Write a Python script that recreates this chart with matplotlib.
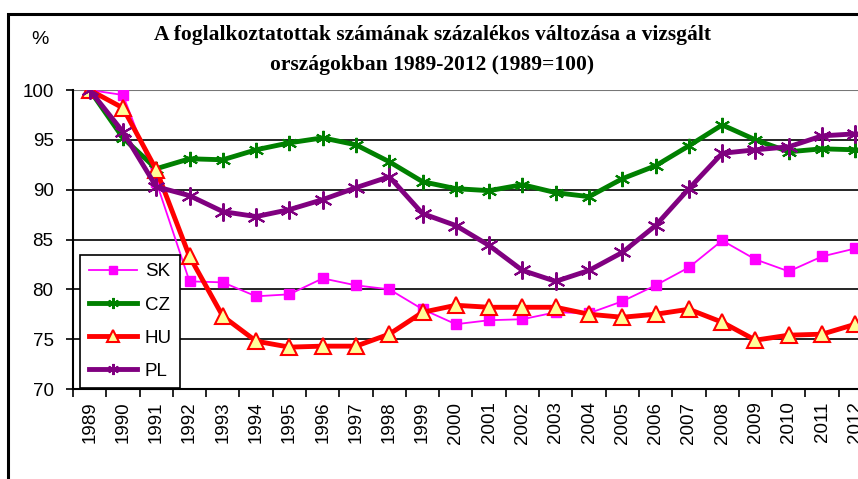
import matplotlib
matplotlib.use('Agg')
import matplotlib.pyplot as plt
import matplotlib.patches as patches
import numpy as np

years = [str(y) for y in range(1989, 2013)]

sk = [100, 99.5, 90.8, 80.8, 80.7, 79.3, 79.5, 81.1, 80.4, 80.0, 78.0, 76.5,
      76.9, 77.0, 77.7, 77.6, 78.8, 80.4, 82.2, 84.9, 83.0, 81.8, 83.3, 84.1]
cz = [100, 95.2, 92.1, 93.1, 93.0, 94.0, 94.7, 95.2, 94.5, 92.8, 90.8, 90.1,
      89.9, 90.5, 89.7, 89.3, 91.1, 92.4, 94.4, 96.5, 95.0, 93.8, 94.1, 94.0]
hu = [100, 98.2, 92.0, 83.3, 77.3, 74.8, 74.2, 74.3, 74.3, 75.5, 77.7, 78.4,
      78.2, 78.2, 78.2, 77.5, 77.2, 77.5, 78.0, 76.7, 74.9, 75.4, 75.5, 76.5]
pl = [100, 95.8, 90.3, 89.4, 87.8, 87.3, 88.0, 89.0, 90.2, 91.3, 87.6, 86.4,
      84.4, 81.9, 80.8, 81.9, 83.7, 86.4, 90.1, 93.65, 94.0, 94.3, 95.4, 95.6]

yticks = [70, 75, 80, 85, 90, 95, 100]

plt.rcParams['font.family'] = ['Liberation Sans', 'DejaVu Sans']

fig = plt.figure(figsize=(8.58, 4.79), dpi=100)
ax = fig.add_axes([73 / 858, 1 - 389 / 479, 799 / 858, 299 / 479])

x = np.arange(len(years))

# gridlines
for v in yticks[1:-1]:
    ax.axhline(v, color='black', lw=1.2, zorder=1)
ax.axhline(100, color='#777777', lw=1.5, zorder=1)

ax.plot(x, sk, color='#FF00FF', lw=1.3, marker='s', ms=7,
        mfc='#FF00FF', mec='#FF00FF', label='SK', zorder=3)
ax.plot(x, cz, color='#008000', lw=3.5, marker=(6, 2, 0), ms=11,
        mec='#008000', mew=1.5, label='CZ', zorder=4)
ax.plot(x, hu, color='#FF0000', lw=3.5, marker='^', ms=11,
        mfc='#FFFF99', mec='#FF0000', mew=1.5, label='HU', zorder=5)
ax.plot(x, pl, color='#800080', lw=3.5, marker=(6, 2, 0), ms=13,
        mec='#800080', mew=1.5, label='PL', zorder=6)

ax.set_xlim(-0.5, len(years) - 0.5)
ax.set_ylim(70, 100)
ax.set_yticks(yticks)
ax.tick_params(axis='y', labelsize=13.5, length=5, width=1.2,
               direction='out', pad=9)

ax.set_xticks(x)
ax.set_xticklabels(years, rotation=90, fontsize=13.5)
ax.set_xticks(np.arange(len(years) + 1) - 0.5, minor=True)
ax.tick_params(axis='x', which='major', length=0, pad=9)
ax.tick_params(axis='x', which='minor', length=6, width=1.2, direction='out')

for s in ['top', 'right']:
    ax.spines[s].set_visible(False)
ax.spines['left'].set_linewidth(1.5)
ax.spines['bottom'].set_linewidth(1.5)

leg = ax.legend(loc='lower left', bbox_to_anchor=(0.009, 0.003), fontsize=13.5,
                handlelength=2.6, labelspacing=0.85, borderpad=0.45,
                borderaxespad=0, handletextpad=0.4, fancybox=False,
                framealpha=1, edgecolor='black')
leg.get_frame().set_linewidth(1.2)
for h, s in zip(leg.legend_handles, [6, 8, 9, 8]):
    h.set_markersize(s)

fig.text(40 / 858, 1 - 39 / 479, '%', fontsize=14, ha='center', va='center')
fig.text(432 / 858, 1 - 50 / 479,
         'A foglalkoztatottak számának százalékos változása a vizsgált\n'
         'országokban 1989-2012 (1989=100)',
         fontsize=15.5, fontweight='bold', family='Liberation Serif',
         ha='center', va='center', linespacing=1.65)

border = patches.Rectangle((8 / 858, -0.1), 1.5, 1 - 14 / 479 + 0.1,
                           transform=fig.transFigure, fill=False,
                           edgecolor='black', lw=2.2, clip_on=False)
fig.patches.append(border)

fig.savefig('out.png', dpi=100)
